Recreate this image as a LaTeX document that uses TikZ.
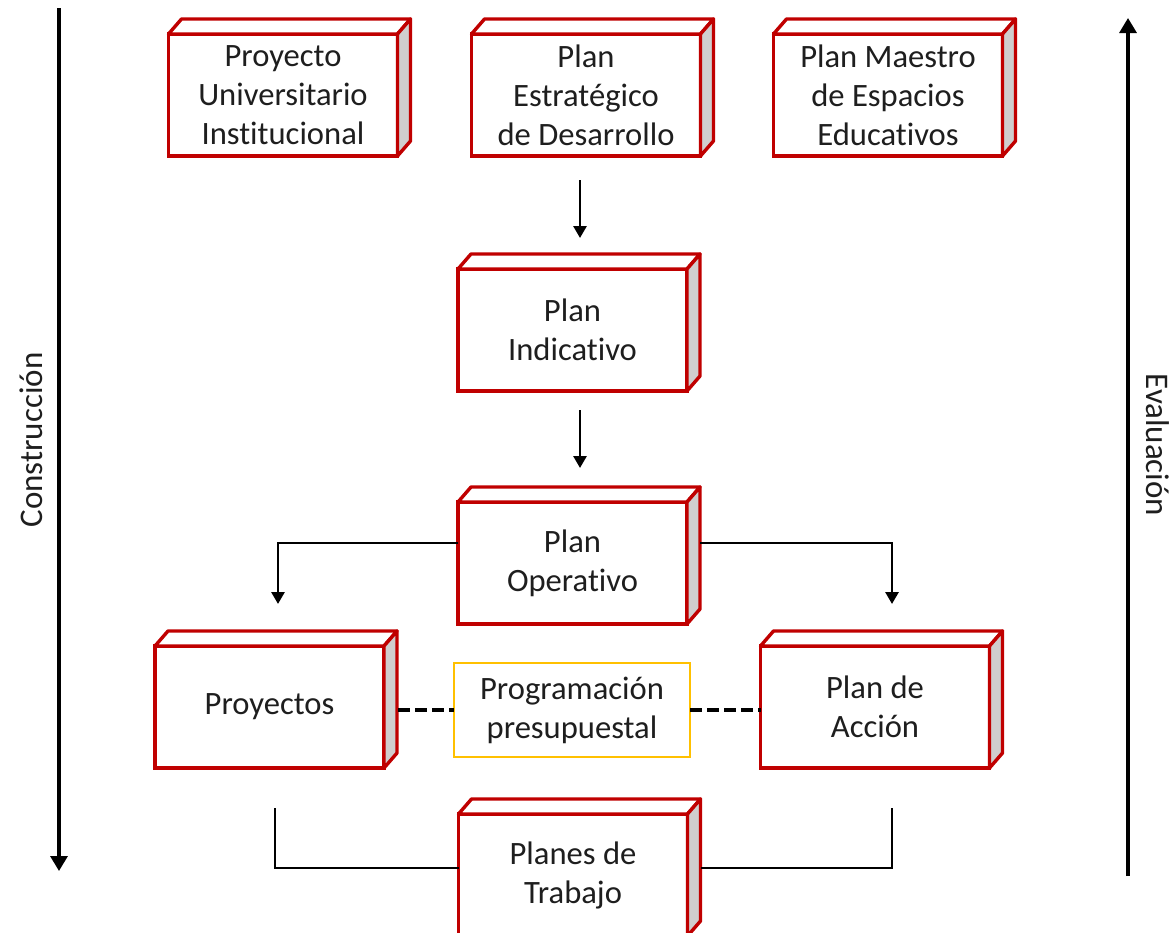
\documentclass[tikz,border=0pt]{standalone}
\usepackage{fontspec}
\setmainfont{Carlito}[Ligatures=NoCommon]
\usetikzlibrary{arrows.meta,calc}
\definecolor{boxred}{RGB}{192,0,0}
\definecolor{sidegray}{RGB}{208,206,206}
\definecolor{progyellow}{RGB}{255,192,0}
\definecolor{txt}{RGB}{30,30,30}
\newcommand\cubeat[4]{%
  \node[cube] (#1) at (#2,#3) {#4};
  \draw[cubeline,fill=white] (#1.north west) -- ++(13,-15) -- ($(#1.north east)+(13,-15)$) -- (#1.north east) -- cycle;
  \draw[cubeline,fill=sidegray] (#1.north east) -- ++(13,-15) -- ($(#1.south east)+(13,-15)$) -- (#1.south east) -- cycle;
}
\begin{document}
\begin{tikzpicture}[x=0.5pt,y=-0.5pt,
  cube/.style={draw=boxred,line width=1.7pt,fill=white,minimum width=114.5pt,minimum height=61pt,
    align=center,font=\fontsize{16.3}{19.5}\selectfont,text=txt,inner sep=0pt,outer sep=0pt},
  cubeline/.style={draw=boxred,line width=1.7pt,line join=round},
  progbox/.style={draw=progyellow,line width=1.2pt,fill=white,minimum width=118pt,minimum height=47pt,
    align=center,font=\fontsize{16.3}{19.5}\selectfont,text=txt,inner sep=0pt,outer sep=0pt},
  conn/.style={draw=black,line width=1.4pt},
  arr/.style={conn,-{Triangle[width=6.5pt,length=6pt]}},
  bigarr/.style={draw=black,line width=1.6pt,-{Triangle[width=8.5pt,length=7.5pt]}},
  dashline/.style={draw=black,line width=1.6pt,dash pattern=on 6pt off 2.5pt},
  sidelabel/.style={font=\fontsize{16.5}{19.5}\selectfont,text=txt,inner sep=0pt}]
\useasboundingbox (0,0) rectangle (1171,932);

% boxes
\cubeat{pui}{283}{95}{Proyecto\\Universitario\\Institucional}
\cubeat{ped}{586}{95}{Plan\\Estratégico\\de Desarrollo}
\cubeat{pme}{888}{95}{Plan Maestro\\de Espacios\\Educativos}
\cubeat{pi}{572.5}{330}{Plan\\Indicativo}
\cubeat{po}{572.5}{563}{Plan\\Operativo}
\cubeat{proy}{269.5}{707}{Proyectos}
\cubeat{pa}{875}{707}{Plan de\\Acción}
\node[progbox] (prog) at (572,710) {Programación\\presupuestal};
\cubeat{pt}{573}{875}{Planes de\\Trabajo}

% vertical arrows between plans
\coordinate (a1s) at (580,180);
\coordinate (a1e) at (580,238);
\draw[arr] (a1s) -- (a1e);
\coordinate (a2s) at (580,410);
\coordinate (a2e) at (580,468);
\draw[arr] (a2s) -- (a2e);

% operativo branches
\coordinate (oy) at (0,543);
\coordinate (pl) at (278,604);
\coordinate (pr) at (892,604);
\path (po.east |- oy) ++(13,0) coordinate (por);
\draw[arr] (po.west |- oy) -| (pl);
\draw[arr] (por) -| (pr);

% dashed links
\path (proy.east) ++(14,0) coordinate (proyr);
\draw[dashline] (prog.west -| proyr) -- (prog.west);
\draw[dashline] (prog.east) -- (prog.east -| pa.west);

% bottom brackets
\coordinate (bl) at (275,808);
\coordinate (br) at (892,808);
\coordinate (by) at (0,868);
\path (pt.east |- by) ++(13,0) coordinate (ptr);
\draw[conn] (bl) |- (pt.west |- by);
\draw[conn] (br) |- (ptr);

% side arrows
\coordinate (ls) at (59,8);
\coordinate (le) at (59,871);
\draw[bigarr] (ls) -- (le);
\coordinate (rs) at (1128,876);
\coordinate (re) at (1128,18);
\draw[bigarr] (rs) -- (re);
\node[sidelabel,rotate=90] (cons) at (31,440) {Construcción};
\node[sidelabel,rotate=-90] (eval) at (1158,445) {Evaluación};
\end{tikzpicture}
\end{document}
